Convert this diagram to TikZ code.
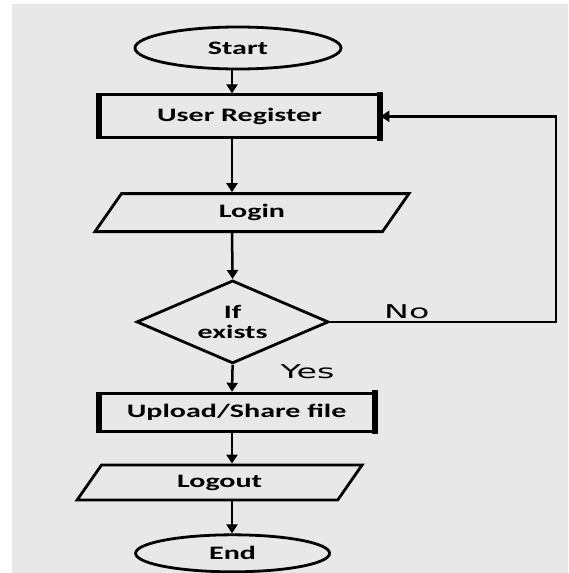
\documentclass[tikz,border=0pt]{standalone}
\usepackage{fontspec}
\newfontfamily\boxfont[FakeStretch=1.58]{Carlito}
\newfontfamily\lblfont[FakeStretch=1.75]{DejaVu Sans}
\usetikzlibrary{positioning,shapes.geometric,arrows.meta}
\definecolor{bggray}{RGB}{232,232,232}

\begin{document}
\begin{tikzpicture}[x=1pt,y=-1pt,
    every node/.style={inner sep=0pt,font=\boxfont\bfseries\fontsize{19}{20}\selectfont},
    term/.style={ellipse,draw,line width=2.8pt},
    procbox/.style={rectangle,draw,line width=2.8pt},
    iobox/.style={trapezium,draw,line width=2.8pt,trapezium stretches body},
    decide/.style={diamond,draw,line width=2.8pt,align=center,aspect=2.3},
    lbl/.style={font=\lblfont\fontsize{19}{21}\selectfont},
    arr/.style={line width=2.5pt,-{Triangle[width=11pt,length=9pt]}}]
\useasboundingbox (0,0) rectangle (568,573);
\fill[bggray] (12,4) rectangle (568,573);

\node[term,minimum width=206pt,minimum height=42pt] (start) at (238,48) {Start};
\node[procbox,minimum width=279pt,minimum height=43pt] (ur)[below=23pt of start,xshift=1.5pt] {User Register};
\node[iobox,trapezium left angle=32,trapezium right angle=148,minimum width=314pt,minimum height=38pt] (login)[below=53pt of ur,xshift=12.5pt] {Login};
\node[decide,minimum width=192pt,minimum height=83pt] (dec)[below=46pt of login,xshift=-19.4pt] {If\\exists};
\node[procbox,minimum width=273pt,minimum height=38pt] (upl)[below=27pt of dec,xshift=4pt] {Upload/Share file};
\node[iobox,trapezium left angle=32.5,trapezium right angle=147.5,minimum width=285pt,minimum height=35pt] (logout)[below=31pt of upl,xshift=-17pt] {Logout};
\node[term,minimum width=194pt,minimum height=37pt] (end)[below=32pt of logout,xshift=13pt] {End};

% thick sides of the process boxes
\foreach \n in {ur,upl}
    \draw[line width=6pt,shorten <=-1.4pt,shorten >=-1.4pt]
        (\n.north west) -- (\n.south west) (\n.north east) -- (\n.south east);

\coordinate (spine) at (232,0);
\coordinate (back) at (556,322);

\draw[arr] (start.south -| spine) -- (ur.north -| spine);
\draw[arr] (ur.south -| spine) -- (login.north -| spine);
\draw[arr] (login.south -| spine) -- (dec.north);
\draw[arr] (dec.south) -- node[lbl,pos=0.25,right=47pt] {Yes} (upl.north -| spine);
\draw[arr] (upl.south -| spine) -- (logout.north -| spine);
\draw[arr] (logout.south -| spine) -- (end.north -| spine);
\draw[arr] (dec.east) -- node[lbl,pos=0.34,above=2pt] {No} (dec.east -| back) |- (ur.east);
\end{tikzpicture}
\end{document}
